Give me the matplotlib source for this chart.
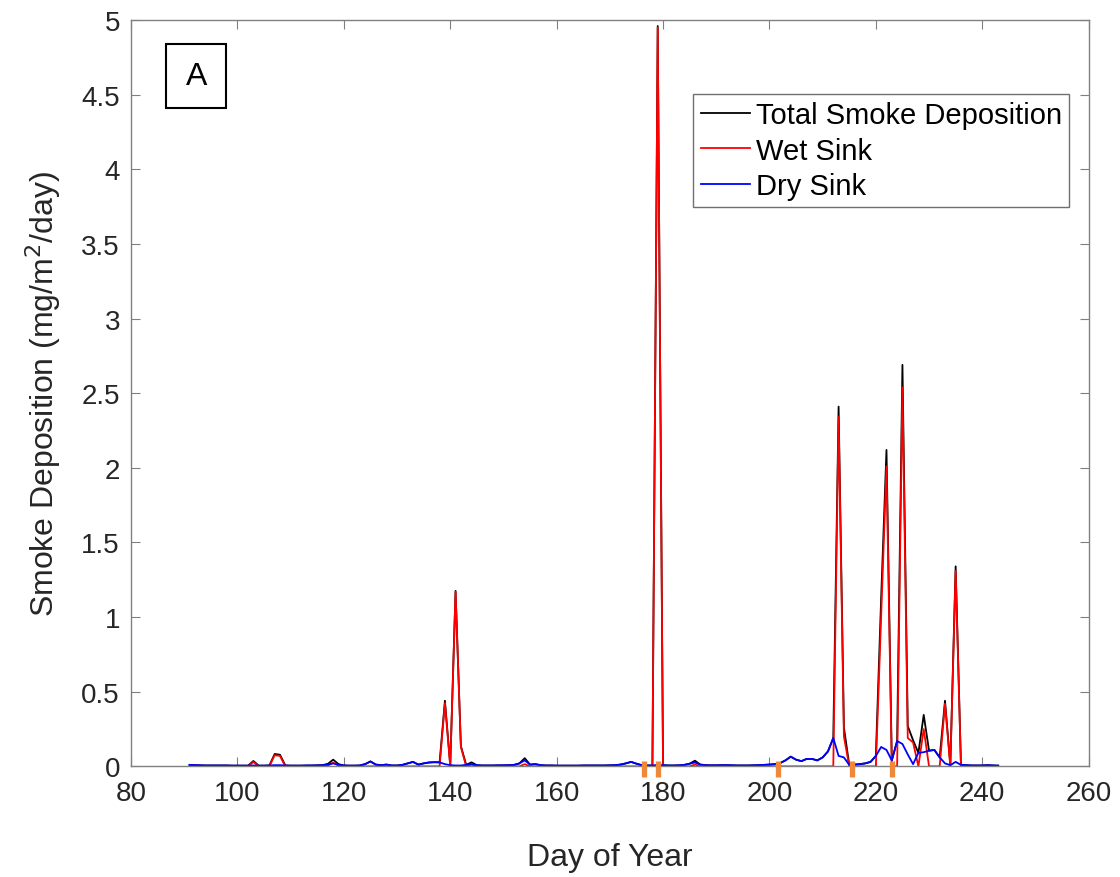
import numpy as np
import matplotlib
matplotlib.use('Agg')
import matplotlib.pyplot as plt
from matplotlib.patches import Rectangle

plt.rcParams['font.family'] = ['Liberation Sans', 'DejaVu Sans']

# day of year 91..243
days = list(range(91, 244))

# dry sink (mg/m2/day), one value per day
dry = [
    0.010, 0.008, 0.007, 0.006, 0.006, 0.006, 0.006, 0.006, 0.005, 0.005,  # 91-100
    0.005, 0.005, 0.006, 0.005, 0.005, 0.006, 0.008, 0.008, 0.006, 0.005,  # 101-110
    0.005, 0.005, 0.006, 0.006, 0.007, 0.008, 0.012, 0.020, 0.010, 0.006,  # 111-120
    0.005, 0.005, 0.006, 0.015, 0.033, 0.012, 0.008, 0.012, 0.006, 0.006,  # 121-130
    0.010, 0.020, 0.030, 0.012, 0.020, 0.026, 0.028, 0.027, 0.015, 0.008,  # 131-140
    0.006, 0.006, 0.010, 0.015, 0.008, 0.006, 0.006, 0.006, 0.007, 0.007,  # 141-150
    0.008, 0.010, 0.020, 0.040, 0.012, 0.015, 0.008, 0.006, 0.006, 0.005,  # 151-160
    0.005, 0.005, 0.005, 0.005, 0.006, 0.006, 0.006, 0.006, 0.006, 0.007,  # 161-170
    0.008, 0.012, 0.020, 0.030, 0.018, 0.008, 0.006, 0.006, 0.010, 0.008,  # 171-180
    0.006, 0.006, 0.007, 0.010, 0.018, 0.026, 0.012, 0.008, 0.007, 0.007,  # 181-190
    0.008, 0.008, 0.007, 0.006, 0.006, 0.006, 0.007, 0.008, 0.010, 0.012,  # 191-200
    0.015, 0.022, 0.040, 0.065, 0.045, 0.035, 0.050, 0.050, 0.040, 0.060,  # 201-210
    0.100, 0.190, 0.070, 0.060, 0.010, 0.012, 0.015, 0.020, 0.030, 0.070,  # 211-220
    0.130, 0.110, 0.040, 0.170, 0.150, 0.080, 0.015, 0.090, 0.095, 0.105,  # 221-230
    0.110, 0.060, 0.020, 0.008, 0.030, 0.010, 0.008, 0.006, 0.006, 0.006,  # 231-240
    0.008, 0.006, 0.005,                                                    # 241-243
]

# wet sink
wet = [
    0, 0, 0, 0, 0, 0, 0, 0, 0, 0,
    0, 0, 0.030, 0, 0, 0, 0.075, 0.070, 0, 0,
    0, 0, 0, 0, 0, 0, 0.005, 0.025, 0.005, 0,
    0, 0, 0, 0, 0, 0, 0, 0, 0, 0,
    0, 0, 0, 0, 0, 0, 0, 0, 0.425, 0,
    1.170, 0.130, 0, 0.012, 0, 0, 0, 0, 0, 0,
    0, 0, 0, 0.015, 0, 0, 0, 0, 0, 0,
    0, 0, 0, 0, 0, 0, 0, 0, 0, 0,
    0, 0, 0, 0, 0, 0, 0, 0, 4.950, 0,
    0, 0, 0, 0, 0, 0.012, 0, 0, 0, 0,
    0, 0, 0, 0, 0, 0, 0, 0, 0, 0,
    0, 0, 0, 0, 0, 0, 0, 0, 0, 0,
    0, 0, 2.340, 0.200, 0, 0, 0, 0, 0, 0,
    1.000, 2.010, 0, 0, 2.540, 0.190, 0.160, 0, 0.250, 0,
    0, 0, 0.420, 0, 1.310, 0, 0, 0, 0, 0,
    0, 0, 0,
]

# total smoke deposition
total = [
    0.010, 0.008, 0.007, 0.006, 0.006, 0.006, 0.006, 0.006, 0.005, 0.005,
    0.005, 0.005, 0.036, 0.005, 0.005, 0.006, 0.083, 0.078, 0.006, 0.005,
    0.005, 0.005, 0.006, 0.006, 0.007, 0.008, 0.017, 0.045, 0.015, 0.006,
    0.005, 0.005, 0.006, 0.015, 0.033, 0.012, 0.008, 0.012, 0.006, 0.006,
    0.010, 0.020, 0.030, 0.012, 0.020, 0.026, 0.028, 0.027, 0.440, 0.008,
    1.176, 0.136, 0.010, 0.027, 0.008, 0.006, 0.006, 0.006, 0.007, 0.007,
    0.008, 0.010, 0.020, 0.055, 0.012, 0.015, 0.008, 0.006, 0.006, 0.005,
    0.005, 0.005, 0.005, 0.005, 0.006, 0.006, 0.006, 0.006, 0.006, 0.007,
    0.008, 0.012, 0.020, 0.030, 0.018, 0.008, 0.006, 0.006, 4.960, 0.008,
    0.006, 0.006, 0.007, 0.010, 0.018, 0.038, 0.012, 0.008, 0.007, 0.007,
    0.008, 0.008, 0.007, 0.006, 0.006, 0.006, 0.007, 0.008, 0.010, 0.012,
    0.015, 0.022, 0.040, 0.065, 0.045, 0.035, 0.050, 0.050, 0.040, 0.060,
    0.100, 0.190, 2.410, 0.260, 0.010, 0.012, 0.015, 0.020, 0.030, 0.070,
    1.130, 2.120, 0.040, 0.170, 2.690, 0.270, 0.175, 0.090, 0.345, 0.105,
    0.110, 0.060, 0.440, 0.008, 1.340, 0.010, 0.008, 0.006, 0.006, 0.006,
    0.008, 0.006, 0.005,
]

# orange event marks along the x axis
event_days = [176.4, 179.0, 201.6, 215.5, 223.1]

fig = plt.figure(figsize=(11.2, 8.78), dpi=100)
ax = fig.add_axes([0.117, 0.126, 0.855, 0.850])

ax.plot(days, total, color='black', linewidth=1.3, label='Total Smoke Deposition')
ax.plot(days, wet, color='red', linewidth=1.3, label='Wet Sink')
ax.plot(days, dry, color='blue', linewidth=1.3, label='Dry Sink')

ax.plot(event_days, [-0.02] * len(event_days), linestyle='none', marker='|',
        markersize=11.5, markeredgewidth=3.8, color='#F0883A', clip_on=False, zorder=5)

ax.set_xlim(80, 260)
ax.set_ylim(0, 5)
ax.set_xticks(np.arange(80, 261, 20))
ax.set_yticks(np.arange(0, 5.01, 0.5))
ax.set_yticklabels(['0', '0.5', '1', '1.5', '2', '2.5', '3', '3.5', '4', '4.5', '5'])

axis_col = '#808080'
for sp in ax.spines.values():
    sp.set_color(axis_col)
    sp.set_linewidth(1.0)
ax.tick_params(direction='in', length=6.5, width=0.8, color=axis_col,
               top=True, right=True, labelsize=20, labelcolor='#262626')
ax.tick_params(axis='x', pad=10)
ax.tick_params(axis='y', pad=8)

ax.set_xlabel('Day of Year', fontsize=23, color='#262626', labelpad=26)
ax.set_ylabel('Smoke Deposition (mg/m$^2$/day)', fontsize=23, color='#262626', labelpad=13)

leg = ax.legend(loc='upper right', bbox_to_anchor=(0.980, 0.901), borderaxespad=0,
                fontsize=21, frameon=True, fancybox=False, framealpha=1,
                handlelength=1.7, handletextpad=0.2, labelspacing=0.25,
                borderpad=0.25)
leg.get_frame().set_edgecolor('#707070')
leg.get_frame().set_linewidth(1.0)

ax.add_patch(Rectangle((0.0366, 0.882), 0.0627, 0.086, transform=ax.transAxes,
                       facecolor='white', edgecolor='black', linewidth=1.5, zorder=6))
ax.text(0.068, 0.925, 'A', transform=ax.transAxes, fontsize=23, ha='center',
        va='center', zorder=7)

fig.savefig('out.png', dpi=100)
